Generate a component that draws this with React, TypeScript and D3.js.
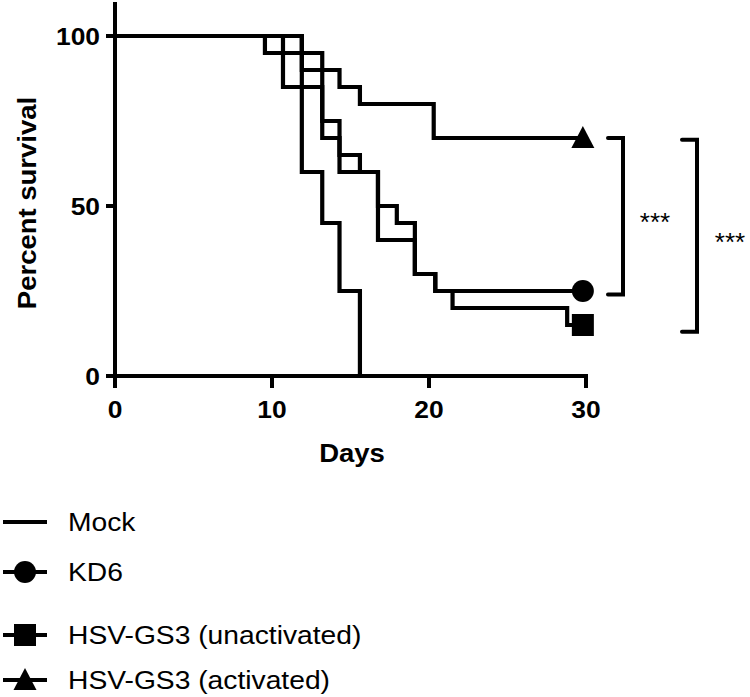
import React from "react";
import * as d3 from "d3";

// ---- data ----
const mockDays = [0, 9.55, 10.7, 11.9, 13.2, 14.3, 15.6];
const mockSurv = [100, 95, 85, 60, 45, 25, 0];
const kd6Days = [0, 10.7, 13.2, 14.3, 16.75, 17.95, 19.1, 20.4, 29.8];
const kd6Surv = [100, 95, 75, 60, 50, 45, 30, 25, 25];
const unactDays = [0, 11.9, 13.2, 14.3, 15.6, 16.75, 19.1, 20.4, 21.5, 28.8, 29.8];
const unactSurv = [100, 85, 70, 65, 60, 40, 30, 25, 20, 15, 15];
const actDays = [0, 11.9, 14.3, 15.6, 20.3, 29.8];
const actSurv = [100, 90, 85, 80, 70, 70];

const xTicks = [0, 10, 20, 30];
const yTicks = [0, 50, 100];
const legendLabels = ["Mock", "KD6", "HSV-GS3 (unactivated)", "HSV-GS3 (activated)"];
const legendMarkers = ["none", "circle", "square", "triangle"];
const brackets = [
  { top: 70, bottom: 24, label: "***" },
  { top: 69.5, bottom: 13, label: "***" },
];

const FONT = "'Liberation Sans', Arial, Helvetica, sans-serif";

export default function App() {
  const W = 750;
  const H = 697;
  const x = d3.scaleLinear().domain([0, 30]).range([115, 586]);
  const y = d3.scaleLinear().domain([0, 100]).range([376, 36]);

  const line = d3
    .line<[number, number]>()
    .x((d) => x(d[0]))
    .y((d) => y(d[1]))
    .curve(d3.curveStepAfter);

  const series = [
    { days: mockDays, surv: mockSurv, marker: "none" },
    { days: kd6Days, surv: kd6Surv, marker: "circle" },
    { days: unactDays, surv: unactSurv, marker: "square" },
    { days: actDays, surv: actSurv, marker: "triangle" },
  ];

  const marker = (type: string, cx: number, cy: number, key?: string) => {
    if (type === "circle") return <circle key={key} cx={cx} cy={cy} r={11} fill="#000" />;
    if (type === "square")
      return <rect key={key} x={cx - 11} y={cy - 11} width={22} height={22} fill="#000" />;
    if (type === "triangle")
      return (
        <path
          key={key}
          d={`M${cx},${cy - 12} L${cx + 11.5},${cy + 10} L${cx - 11.5},${cy + 10} Z`}
          fill="#000"
        />
      );
    return null;
  };

  const stretch = 1.1;
  const legendY = [522, 572, 635, 680];
  const bracketX = [623, 697];
  const starX = [655, 730];

  return (
    <svg width={W} height={H} style={{ display: "block", position: "absolute", left: 0, top: 0 }}>
      <rect width={W} height={H} fill="#fff" />
      {/* curves */}
      {series.map((s, i) => {
        const pts = s.days.map((d, j) => [d, s.surv[j]] as [number, number]);
        return (
          <path
            key={i}
            d={line(pts) || ""}
            fill="none"
            stroke="#000"
            strokeWidth={4.2}
            strokeLinejoin="miter"
            strokeLinecap="square"
          />
        );
      })}
      {series.map((s, i) =>
        marker(s.marker, x(s.days[s.days.length - 1]), y(s.surv[s.surv.length - 1]), "m" + i)
      )}

      {/* axes */}
      <line x1={x(0)} y1={2} x2={x(0)} y2={378} stroke="#000" strokeWidth={4} />
      <line x1={x(0) - 2} y1={y(0)} x2={x(30) + 2} y2={y(0)} stroke="#000" strokeWidth={4} />
      {yTicks.map((t) => (
        <g key={"yt" + t}>
          <line x1={x(0) - 9} y1={y(t)} x2={x(0)} y2={y(t)} stroke="#000" strokeWidth={4} />
          <text
            transform={`translate(${x(0) - 15},${y(t) + 8.5}) scale(${stretch},1)`}
            textAnchor="end"
            fontFamily={FONT}
            fontWeight="bold"
            fontSize={24}
          >
            {t}
          </text>
        </g>
      ))}
      {xTicks.map((t) => (
        <g key={"xt" + t}>
          <line x1={x(t)} y1={y(0)} x2={x(t)} y2={y(0) + 12} stroke="#000" strokeWidth={4} />
          <text
            transform={`translate(${x(t)},${418}) scale(${stretch},1)`}
            textAnchor="middle"
            fontFamily={FONT}
            fontWeight="bold"
            fontSize={24}
          >
            {t}
          </text>
        </g>
      ))}
      <text
        transform={`translate(36,${203}) rotate(-90) scale(${stretch},1)`}
        textAnchor="middle"
        fontFamily={FONT}
        fontWeight="bold"
        fontSize={25}
      >
        Percent survival
      </text>
      <text
        transform={`translate(${352},${462}) scale(${stretch},1)`}
        textAnchor="middle"
        fontFamily={FONT}
        fontWeight="bold"
        fontSize={25}
      >
        Days
      </text>

      {/* brackets */}
      {brackets.map((b, i) => (
        <g key={"br" + i}>
          <path
            d={`M${bracketX[i] - 15},${y(b.top)} H${bracketX[i]} V${y(b.bottom)} H${bracketX[i] - 15}`}
            fill="none"
            stroke="#000"
            strokeWidth={4}
            strokeLinecap="round"
            strokeLinejoin="miter"
          />
          <text
            x={starX[i]}
            y={(y(b.top) + y(b.bottom)) / 2 + 15}
            textAnchor="middle"
            fontFamily={FONT}
            fontSize={26}
          >
            {b.label}
          </text>
        </g>
      ))}

      {/* legend */}
      {legendLabels.map((lab, i) => (
        <g key={"lg" + i}>
          <line x1={3} y1={legendY[i]} x2={47} y2={legendY[i]} stroke="#000" strokeWidth={4} />
          {marker(legendMarkers[i], 25, legendY[i])}
          <text
            transform={`translate(68,${legendY[i] + 9}) scale(1.13,1)`}
            fontFamily={FONT}
            fontSize={25}
          >
            {lab}
          </text>
        </g>
      ))}
    </svg>
  );
}
